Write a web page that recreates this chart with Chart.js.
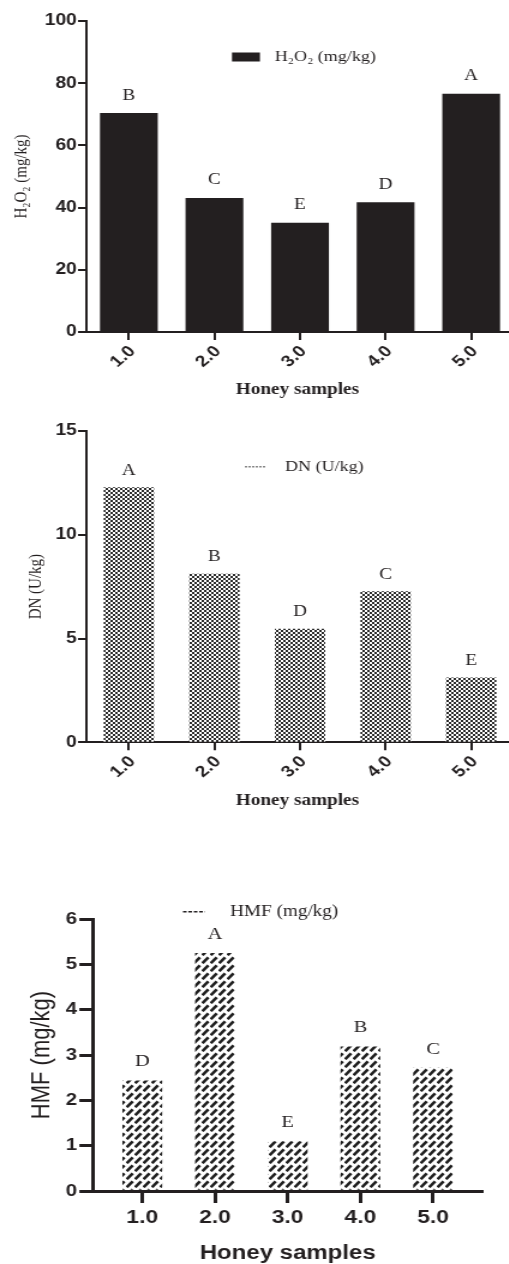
<!DOCTYPE html>
<html>
<head>
<meta charset="utf-8">
<script src="https://cdn.jsdelivr.net/npm/chart.js@4.4.1/dist/chart.umd.min.js"></script>
<style>
  html, body { margin: 0; padding: 0; background: #fff; width: 509px; height: 1264px; overflow: hidden; }
  /* the original figure is stretched sideways, so the canvases are too */
  .wrap { position: absolute; left: 0; transform: scaleX(1.2); transform-origin: 0 0; }
</style>
</head>
<body>
<div class="wrap" style="top:0"><canvas id="c1" width="424" height="420"></canvas></div>
<div class="wrap" style="top:420px"><canvas id="c2" width="424" height="400"></canvas></div>
<div class="wrap" style="top:820px"><canvas id="c3" width="424" height="444"></canvas></div>
<script>
const samples = [1, 2, 3, 4, 5];

const h2o2 = [70.3, 43.0, 35.0, 41.6, 76.5];
const h2o2Letters = ['B', 'C', 'E', 'D', 'A'];

const dn = [12.27, 8.10, 5.45, 7.26, 3.11];
const dnLetters = ['A', 'B', 'D', 'C', 'E'];

const hmf = [2.43, 5.24, 1.09, 3.18, 2.71];
const hmfLetters = ['D', 'A', 'E', 'B', 'C'];

const ink = '#231f20';
const serif = "'Liberation Serif', 'Times New Roman', serif";
const sans = "'Liberation Sans', Arial, sans-serif";

// fills
function checker() {
  const c = document.createElement('canvas');
  c.width = 4; c.height = 4;
  const g = c.getContext('2d');
  g.fillStyle = '#fff'; g.fillRect(0, 0, 4, 4);
  g.fillStyle = '#2b2b2b';
  g.fillRect(0, 0, 2, 2); g.fillRect(2, 2, 2, 2);
  return g.createPattern(c, 'repeat');
}
function bricks() {
  const c = document.createElement('canvas');
  c.width = 7; c.height = 8;
  const g = c.getContext('2d');
  g.fillStyle = '#fff'; g.fillRect(0, 0, 7, 8);
  g.strokeStyle = '#1e1e1e'; g.lineWidth = 2.6; g.lineCap = 'butt';
  g.beginPath(); g.moveTo(0.6, 7.2); g.lineTo(5.6, 1.4); g.stroke();
  return g.createPattern(c, 'repeat');
}

const letters = {
  id: 'letters',
  afterDatasetsDraw(chart, args, opts) {
    const ctx = chart.ctx;
    const meta = chart.getDatasetMeta(0);
    ctx.save();
    ctx.font = opts.size + 'px ' + serif;
    ctx.fillStyle = ink;
    ctx.textAlign = 'center';
    ctx.textBaseline = 'middle';
    meta.data.forEach((bar, i) => ctx.fillText(opts.labels[i], bar.x, bar.y - opts.gap));
    ctx.restore();
  }
};

const key = {
  id: 'key',
  afterDraw(chart, args, o) {
    const ctx = chart.ctx;
    ctx.save();
    if (o.box) {
      ctx.fillStyle = ink;
      ctx.fillRect(o.x, o.y - o.h / 2, o.w, o.h);
    } else {
      ctx.strokeStyle = o.color;
      ctx.lineWidth = o.h;
      ctx.setLineDash(o.dash);
      ctx.beginPath(); ctx.moveTo(o.x, o.y); ctx.lineTo(o.x + o.w, o.y); ctx.stroke();
    }
    ctx.setLineDash([]);
    ctx.font = o.size + 'px ' + serif;
    ctx.fillStyle = ink;
    ctx.textAlign = 'left';
    ctx.textBaseline = 'middle';
    ctx.fillText(chart.data.datasets[0].label, o.textX, o.y);
    ctx.restore();
  }
};

function draw(id, s) {
  return new Chart(document.getElementById(id), {
    type: 'bar',
    data: {
      datasets: [{
        label: s.label,
        data: samples.map((x, i) => ({x: x, y: s.values[i]})),
        backgroundColor: s.fill,
        borderWidth: 0,
        barThickness: s.barW
      }]
    },
    options: {
      responsive: false,
      animation: false,
      layout: {padding: {top: s.top, right: s.right, left: 0, bottom: 0}},
      plugins: {
        legend: {display: false},
        tooltip: {enabled: false},
        letters: {labels: s.letters, gap: s.gap, size: s.letterSize},
        key: s.key
      },
      scales: {
        x: {
          type: 'linear',
          offset: false,
          min: s.xMin, max: s.xMax,
          afterBuildTicks: sc => { sc.ticks = samples.map(v => ({value: v})); },
          ticks: {
            callback: v => v.toFixed(1),
            minRotation: s.rot, maxRotation: s.rot,
            color: ink,
            font: {family: sans, size: s.xTickSize, weight: 'bold'},
            padding: s.xTickPad,
            labelOffset: s.labelOffset
          },
          grid: {offset: false, drawOnChartArea: false, tickLength: s.xTickLen, color: ink, lineWidth: s.lw},
          border: {color: ink, width: s.lw},
          title: {display: true, text: 'Honey samples', color: ink, font: s.xTitleFont, padding: {top: 0, bottom: s.xTitlePad}},
          afterFit: sc => { sc.height = s.xHeight; sc.paddingLeft = 0; sc.paddingRight = 0; }
        },
        y: {
          min: 0, max: s.yMax,
          ticks: {stepSize: s.step, color: ink, font: {family: sans, size: s.yTickSize, weight: 'bold'}, padding: s.yTickPad},
          grid: {drawOnChartArea: false, tickLength: s.yTickLen, color: ink, lineWidth: s.lw},
          border: {color: ink, width: s.lw},
          title: {display: true, text: s.yTitle, color: ink, font: s.yTitleFont, padding: {top: s.yTitlePad, bottom: 0}},
          afterFit: sc => { sc.width = s.left; }
        }
      }
    },
    plugins: [letters, key]
  });
}

draw('c1', {
  label: 'H\u2082O\u2082 (mg/kg)', values: h2o2, letters: h2o2Letters,
  fill: ink, barW: 47.5, top: 21, right: 0, left: 71.7,
  xMin: 0.5, xMax: 5.44, rot: 45, labelOffset: 3, xTickSize: 16, xTickPad: 2, xTickLen: 8, lw: 2,
  xTitleFont: {family: serif, size: 16, weight: 'bold'}, xTitlePad: 21, xHeight: 88,
  yMax: 100, step: 20, yTickSize: 16, yTickPad: 1, yTickLen: 6.7,
  yTitle: 'H\u2082O\u2082 (mg/kg)', yTitleFont: {family: serif, size: 15}, yTitlePad: 9,
  gap: 18, letterSize: 16,
  key: {box: true, x: 193.3, y: 57, w: 23.3, h: 9, textX: 229, size: 15}
});

draw('c2', {
  label: 'DN (U/kg)', values: dn, letters: dnLetters,
  fill: checker(), barW: 41.3, top: 11, right: 0, left: 71.7,
  xMin: 0.5, xMax: 5.44, rot: 45, labelOffset: 3, xTickSize: 16, xTickPad: 2, xTickLen: 8, lw: 2,
  xTitleFont: {family: serif, size: 16, weight: 'bold'}, xTitlePad: 10, xHeight: 77.7,
  yMax: 15, step: 5, yTickSize: 16, yTickPad: 1, yTickLen: 6.7,
  yTitle: 'DN (U/kg)', yTitleFont: {family: serif, size: 15}, yTitlePad: 21,
  gap: 17, letterSize: 16,
  key: {box: false, color: '#888', dash: [2, 1], x: 204, y: 46.7, w: 17, h: 1.5, textX: 237.5, size: 15}
});

draw('c3', {
  label: 'HMF (mg/kg)', values: hmf, letters: hmfLetters,
  fill: bricks(), barW: 32.5, top: 99, right: 22.3, left: 77.8,
  xMin: 0.327, xMax: 5.674, rot: 0, labelOffset: 0, xTickSize: 19, xTickPad: 3, xTickLen: 12, lw: 3,
  xTitleFont: {family: sans, size: 20, weight: 'bold', lineHeight: 1}, xTitlePad: 1, xHeight: 73,
  yMax: 6, step: 1, yTickSize: 17, yTickPad: 2, yTickLen: 11.7,
  yTitle: 'HMF (mg/kg)', yTitleFont: {family: sans, size: 22}, yTitlePad: 22,
  gap: 19, letterSize: 17,
  key: {box: false, color: ink, dash: [3, 1.5], x: 152.5, y: 91.7, w: 18.3, h: 1.5, textX: 191.7, size: 16}
});
</script>
</body>
</html>
